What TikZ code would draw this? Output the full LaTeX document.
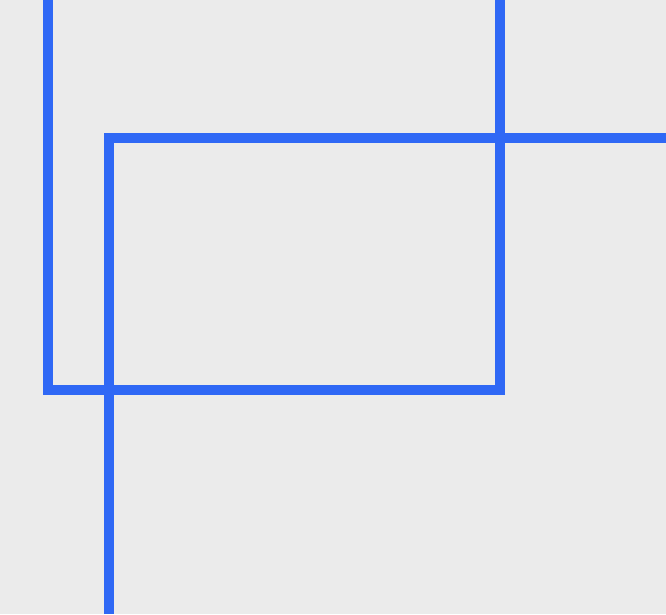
\documentclass[tikz,border=0pt]{standalone}
\usepackage{tikz}

\definecolor{bgGray}{HTML}{EBEBEB}
\definecolor{lineBlue}{HTML}{2F68F5}

\begin{document}
\begin{tikzpicture}[
    x=1pt, y=-1pt,
    bluepath/.style={
        draw=lineBlue, line width=10pt,
        line join=miter, line cap=butt
    }
]

\def\w{666}
\def\h{614}

% Hintergrund
\fill[bgGray] (0,0) rectangle (\w,\h);
\useasboundingbox (0,0) rectangle (\w,\h);

% Eckpunkte
\coordinate (ua) at (48,0);
\coordinate (ub) at (48,390);
\coordinate (uc) at (500,390);
\coordinate (ud) at (500,0);
\coordinate (la) at (109,\h);
\coordinate (lb) at (109,138);
\coordinate (lc) at (\w,138);

% obere Klammer
\draw[bluepath] (ua) -- (ub) -- (uc) -- (ud);

% untere Ecke
\draw[bluepath] (la) -- (lb) -- (lc);

\end{tikzpicture}
\end{document}
